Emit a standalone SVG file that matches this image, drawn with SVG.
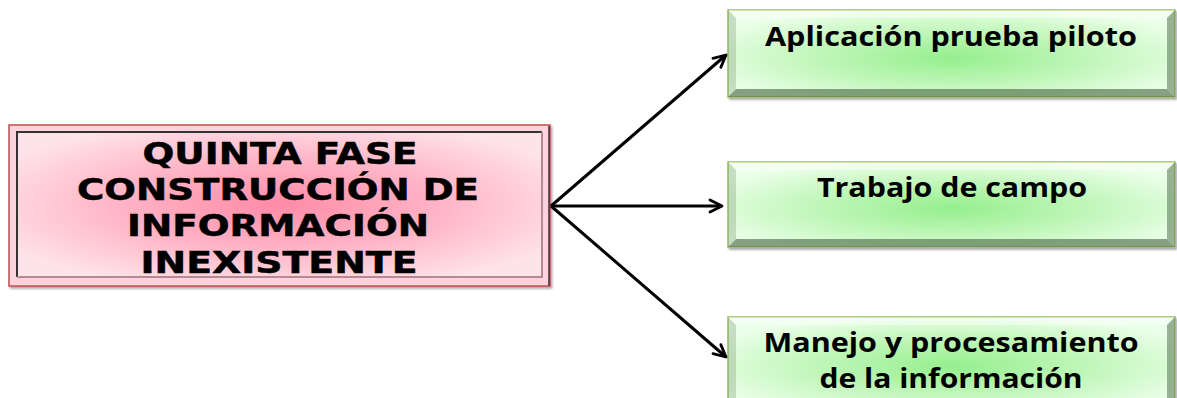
<svg xmlns="http://www.w3.org/2000/svg" width="1177" height="398" viewBox="0 0 1177 398">
  <defs>
    <radialGradient id="pinkFill" cx="0.5" cy="0.5" r="0.6">
      <stop offset="0" stop-color="#ff8aa7"/>
      <stop offset="0.55" stop-color="#ffb8c8"/>
      <stop offset="1" stop-color="#ffe3ea"/>
    </radialGradient>
    <radialGradient id="greenFill" cx="0.5" cy="0.55" r="0.6">
      <stop offset="0" stop-color="#95ef8d"/>
      <stop offset="0.55" stop-color="#c4f7bd"/>
      <stop offset="1" stop-color="#ecffea"/>
    </radialGradient>
    <marker id="arrow" viewBox="0 0 16 16" refX="14" refY="8" markerWidth="16" markerHeight="16" markerUnits="userSpaceOnUse" orient="auto">
      <path d="M2,2 L14,8 L2,14" fill="none" stroke="#000" stroke-width="2.8" stroke-linecap="round" stroke-linejoin="round"/>
    </marker>
    <filter id="shadow" x="-5%" y="-10%" width="110%" height="125%">
      <feDropShadow dx="1.5" dy="2" stdDeviation="1.2" flood-color="#000" flood-opacity="0.35"/>
    </filter>
  </defs>
  <style>
    .pinkText { font-family: "DejaVu Sans", Verdana, sans-serif; font-weight: bold; font-size: 30px; fill: #000; stroke: #000; stroke-width: 0.5; text-anchor: middle; }
    .greenText { font-family: "Open Sans", "Liberation Sans", sans-serif; font-weight: bold; font-size: 26px; fill: #000; text-anchor: middle; }
    .greenBox { fill: url(#greenFill); stroke: #9bbb59; stroke-width: 1.5; }
    .bevTop { fill: #ffffff; opacity: 0.45; }
    .bevLeft { fill: #7f9f78; opacity: 0.35; }
    .bevRight { fill: #5f7f58; opacity: 0.6; }
    .bevBottom { fill: #4f6f48; opacity: 0.65; }
    .conn { fill: none; stroke: #000; stroke-width: 3; marker-end: url(#arrow); }
  </style>

  <g id="node-quinta-fase">
    <rect x="9" y="125" width="541" height="161" fill="#ffd3dd" stroke="#c0504d" stroke-width="1.5" filter="url(#shadow)"/>
    <rect x="17" y="132" width="525" height="145" fill="url(#pinkFill)"/>
    <path d="M17,277 L17,132 L542,132" fill="none" stroke="#333" stroke-width="2"/>
    <path d="M17,277 L542,277 L542,132" fill="none" stroke="#b58a95" stroke-width="2"/>
    <path d="M549,126 L549,286" fill="none" stroke="#4a2a30" stroke-width="1.5"/>
    <text class="pinkText" x="280" y="164" textLength="275" lengthAdjust="spacingAndGlyphs">QUINTA FASE</text>
    <text class="pinkText" x="278" y="200" textLength="402" lengthAdjust="spacingAndGlyphs">CONSTRUCCIÓN DE</text>
    <text class="pinkText" x="278" y="236" textLength="302" lengthAdjust="spacingAndGlyphs">INFORMACIÓN</text>
    <text class="pinkText" x="279" y="273" textLength="277" lengthAdjust="spacingAndGlyphs">INEXISTENTE</text>
  </g>

  <g id="node-aplicacion">
    <rect class="greenBox" x="728" y="10" width="447" height="87" filter="url(#shadow)"/>
    <polygon class="bevTop" points="728,10 1175,10 1167,18 736,18"/>
    <polygon class="bevLeft" points="728,10 736,18 736,89 728,97"/>
    <polygon class="bevRight" points="1175,10 1175,97 1167,89 1167,18"/>
    <polygon class="bevBottom" points="728,97 736,89 1167,89 1175,97"/>
    <text class="greenText" x="951" y="46" textLength="372" lengthAdjust="spacingAndGlyphs">Aplicación prueba piloto</text>
  </g>

  <g id="node-trabajo">
    <rect class="greenBox" x="728" y="162" width="447" height="85" filter="url(#shadow)"/>
    <polygon class="bevTop" points="728,162 1175,162 1167,170 736,170"/>
    <polygon class="bevLeft" points="728,162 736,170 736,239 728,247"/>
    <polygon class="bevRight" points="1175,162 1175,247 1167,239 1167,170"/>
    <polygon class="bevBottom" points="728,247 736,239 1167,239 1175,247"/>
    <text class="greenText" x="952" y="197" textLength="270" lengthAdjust="spacingAndGlyphs">Trabajo de campo</text>
  </g>

  <g id="node-manejo">
    <rect class="greenBox" x="728" y="317" width="447" height="90" filter="url(#shadow)"/>
    <polygon class="bevTop" points="728,317 1175,317 1167,325 736,325"/>
    <polygon class="bevLeft" points="728,317 736,325 736,399 728,407"/>
    <polygon class="bevRight" points="1175,317 1175,407 1167,399 1167,325"/>
    <text class="greenText" x="951" y="352" textLength="375" lengthAdjust="spacingAndGlyphs">Manejo y procesamiento</text>
    <text class="greenText" x="951" y="388" textLength="263" lengthAdjust="spacingAndGlyphs">de la información</text>
  </g>

  <g id="connectors">
    <line class="conn" x1="551" y1="206" x2="726" y2="55"/>
    <line class="conn" x1="551" y1="206" x2="722" y2="206"/>
    <line class="conn" x1="551" y1="206" x2="726" y2="357"/>
  </g>
</svg>
